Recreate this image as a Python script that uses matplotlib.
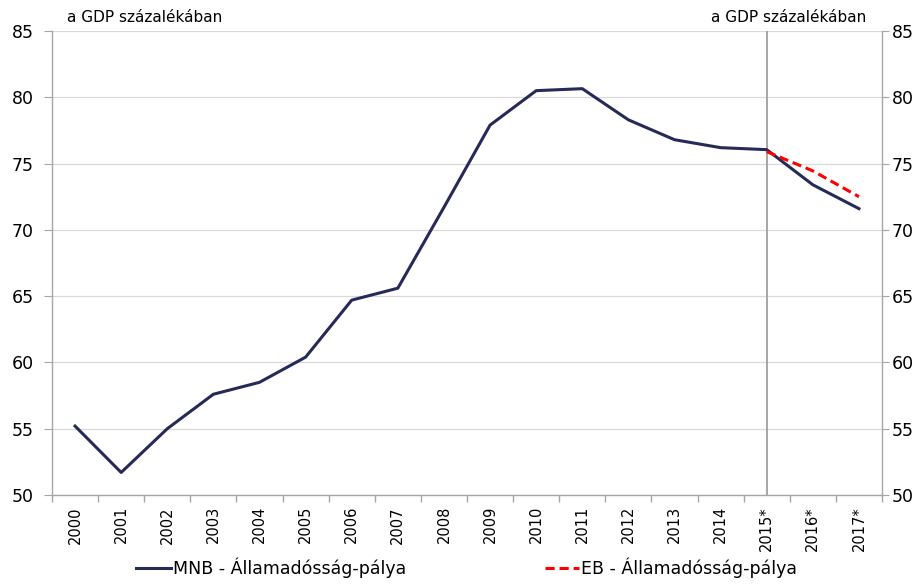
import matplotlib
matplotlib.use("Agg")
import matplotlib.pyplot as plt
import numpy as np

years = ["2000", "2001", "2002", "2003", "2004", "2005", "2006", "2007", "2008",
         "2009", "2010", "2011", "2012", "2013", "2014", "2015*", "2016*", "2017*"]
mnb_debt = [55.2, 51.7, 55.0, 57.6, 58.5, 60.4, 64.7, 65.6, 71.7,
            77.9, 80.5, 80.65, 78.3, 76.8, 76.2, 76.05, 73.4, 71.6]
eb_years = ["2015*", "2016*", "2017*"]
eb_debt = [75.9, 74.45, 72.5]
y_ticks = [50, 55, 60, 65, 70, 75, 80, 85]
unit_label = "a GDP százalékában"
mnb_label = "MNB - Államadósság-pálya"
eb_label = "EB - Államadósság-pálya"

NAVY = "#262A56"
RED = "#FF0000"
GRID = "#D9D9D9"
SPINE = "#A6A6A6"

plt.rcParams["font.family"] = ["DejaVu Sans"]

fig = plt.figure(figsize=(9.24, 5.87), dpi=100)
ax = fig.add_axes([52 / 924, 1 - 495 / 587, (882 - 52) / 924, (495 - 31) / 587])

x = np.arange(len(years))
eb_x = [years.index(y) for y in eb_years]

ax.plot(x, mnb_debt, color=NAVY, lw=2.2, label=mnb_label, zorder=3)
ax.plot(eb_x, eb_debt, color=RED, lw=2.2, ls=(0, (3, 1.6)), label=eb_label, zorder=4)
ax.axvline(years.index("2015*"), color=SPINE, lw=1.4, zorder=2)

ax.set_xlim(-0.5, len(years) - 0.5)
ax.set_ylim(50, 85)
ax.set_yticks(y_ticks)
ax.grid(axis="y", color=GRID, lw=0.9, zorder=1)
ax.set_axisbelow(True)

ax.set_xticks(x)
ax.set_xticklabels(years, rotation=90, fontsize=10.5)
ax.set_xticks(np.arange(-0.5, len(years)), minor=True)
ax.tick_params(axis="x", which="major", length=0, pad=8)
ax.tick_params(axis="x", which="minor", length=5, color=SPINE, width=1)
ax.tick_params(axis="y", length=6, color=SPINE, labelsize=12.5, pad=7)

for side in ["left", "right", "bottom"]:
    ax.spines[side].set_color(SPINE)
    ax.spines[side].set_linewidth(1.0)
ax.spines["top"].set_visible(False)

ax2 = ax.twinx()
ax2.set_ylim(ax.get_ylim())
ax2.set_yticks(y_ticks)
ax2.tick_params(axis="y", length=5, color=SPINE, labelsize=12.5, pad=2)
for side in ["left", "right", "bottom", "top"]:
    ax2.spines[side].set_visible(False)

ax.text(15 / 830, 1.012, unit_label, transform=ax.transAxes, fontsize=11,
        ha="left", va="bottom")
ax.text(1 - 16 / 830, 1.012, unit_label, transform=ax.transAxes, fontsize=11,
        ha="right", va="bottom")

fig.legend(loc="lower center", bbox_to_anchor=(0.505, -0.012), ncol=2, frameon=False,
           fontsize=12.5, handlelength=2.0, handletextpad=0.1, columnspacing=8.0)

fig.savefig("out.png", dpi=100, facecolor="white")
